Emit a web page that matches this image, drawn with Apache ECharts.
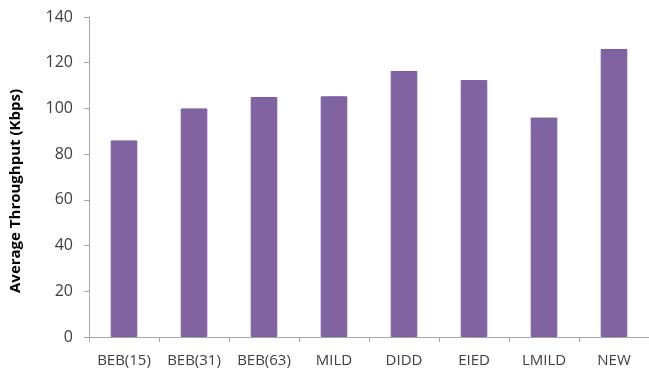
<!DOCTYPE html>
<html>
<head>
<meta charset="utf-8">
<script src="https://cdn.jsdelivr.net/npm/echarts@6/dist/echarts.min.js"></script>
<style>
  html, body { margin: 0; padding: 0; background: #fff; }
  #chart { width: 649px; height: 379px; }
</style>
</head>
<body>
<div id="chart"></div>
<script>
// Average throughput per backoff scheme
const categories = ['BEB(15)', 'BEB(31)', 'BEB(63)', 'MILD', 'DIDD', 'EIED', 'LMILD', 'NEW'];
const throughput = [86, 100, 105, 105.3, 116.4, 112.4, 96, 126];
const yTicks = { min: 0, max: 140, interval: 20 };

const chart = echarts.init(document.getElementById('chart'));
const FONT = 'Open Sans';

chart.setOption({
  animation: false,
  grid: { left: 89, right: -5, top: 17, bottom: 42, containLabel: false },
  xAxis: {
    type: 'category',
    data: categories,
    axisLine: { lineStyle: { color: '#a6a6a6', width: 1 } },
    axisTick: { show: true, length: 5, lineStyle: { color: '#a6a6a6' } },
    axisLabel: { color: '#404040', fontFamily: FONT, fontSize: 15, margin: 16 }
  },
  yAxis: {
    type: 'value',
    min: yTicks.min,
    max: yTicks.max,
    interval: yTicks.interval,
    name: 'Average Throughput (Kbps)',
    nameLocation: 'middle',
    nameGap: 66,
    nameRotate: 90,
    nameTextStyle: { color: '#000', fontFamily: FONT, fontSize: 15, fontWeight: 'bold', padding: [0, 28, 0, 0] },
    axisLine: { show: true, lineStyle: { color: '#a6a6a6', width: 1 } },
    axisTick: { show: true, length: 5, lineStyle: { color: '#a6a6a6' } },
    splitLine: { show: false },
    axisLabel: { color: '#404040', fontFamily: FONT, fontSize: 16, margin: 16 }
  },
  series: [{
    type: 'bar',
    data: throughput,
    barWidth: '38%',
    itemStyle: { color: '#8064a2', borderColor: '#7a5e9c', borderWidth: 1 }
  }]
});
</script>
</body>
</html>
